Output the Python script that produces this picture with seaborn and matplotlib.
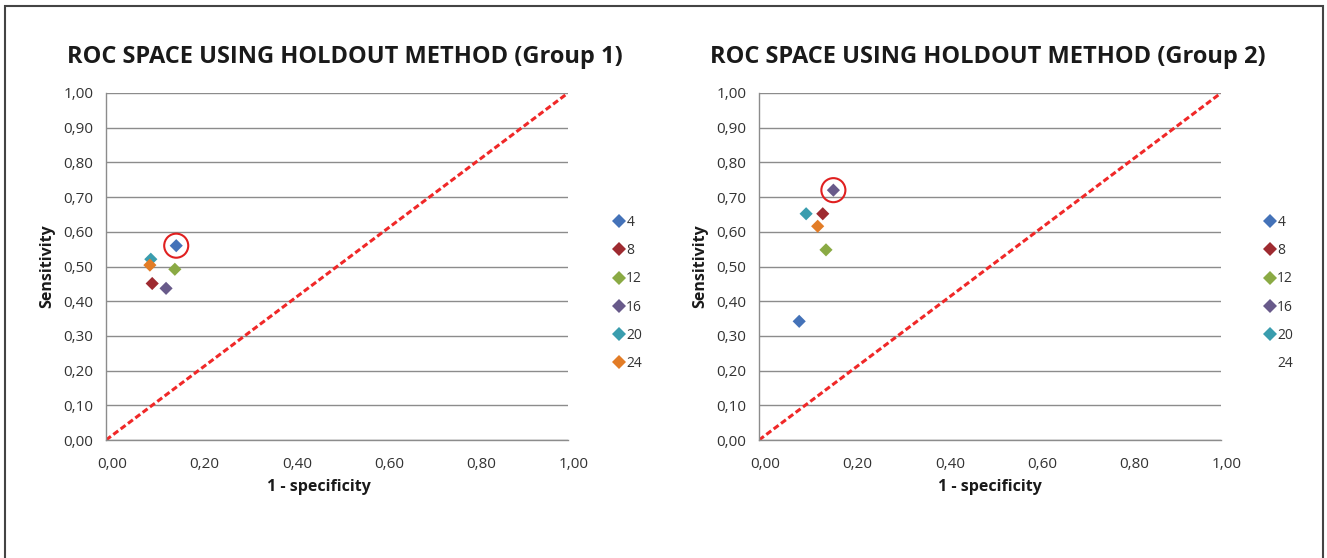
import matplotlib
matplotlib.use('Agg')
import matplotlib.pyplot as plt
import matplotlib.transforms as mtransforms
from matplotlib.patches import Rectangle
import pandas as pd
import seaborn as sns

# data
windows = ['4', '8', '12', '16', '20', '24']
g1_fpr = [0.152, 0.100, 0.149, 0.130, 0.097, 0.095]
g1_tpr = [0.560, 0.451, 0.492, 0.437, 0.521, 0.504]
g2_fpr = [0.087, 0.138, 0.145, 0.161, 0.102, 0.127]
g2_tpr = [0.342, 0.652, 0.548, 0.720, 0.652, 0.616]
best_g1 = '4'
best_g2 = '16'
tick_vals = [0.0, 0.1, 0.2, 0.3, 0.4, 0.5, 0.6, 0.7, 0.8, 0.9, 1.0]
tick_labels = ['0,00', '0,10', '0,20', '0,30', '0,40', '0,50', '0,60', '0,70', '0,80', '0,90', '1,00']
xtick_vals = [0.0, 0.2, 0.4, 0.6, 0.8, 1.0]
xtick_labels = ['0,00', '0,20', '0,40', '0,60', '0,80', '1,00']

colors = {'4': '#4472B8', '8': '#9E2A30', '12': '#8AAA44', '16': '#685A8A',
          '20': '#3A9DAE', '24': '#E27C26'}

sns.set_theme(style='white')
plt.rcParams['font.family'] = ['Open Sans', 'DejaVu Sans']

W, H = 1327, 558
fig = plt.figure(figsize=(W / 100, H / 100), dpi=100)
fig.patches.append(Rectangle((5 / W, -0.05), 1318 / W, 1 - 6 / H + 0.05,
                             transform=fig.transFigure, fill=False,
                             edgecolor='#444444', linewidth=1.5))

panels = [
    dict(left=106, fpr=g1_fpr, tpr=g1_tpr, best=best_g1, title_x=345, xlab_x=319,
         title='ROC SPACE USING HOLDOUT METHOD (Group 1)', leg_x=611, hide24=False),
    dict(left=759, fpr=g2_fpr, tpr=g2_tpr, best=best_g2, title_x=988, xlab_x=990,
         title='ROC SPACE USING HOLDOUT METHOD (Group 2)', leg_x=1262, hide24=True),
]

for p in panels:
    ax = fig.add_axes([p['left'] / W, 1 - 440 / H, 462 / W, 347 / H])
    df = pd.DataFrame({'window': windows, 'fpr': p['fpr'], 'tpr': p['tpr']})

    ax.plot([0, 1], [0, 1], color='#F02828', linestyle=(0, (2, 1)), linewidth=2.2, zorder=2)
    sns.scatterplot(data=df, x='fpr', y='tpr', hue='window', hue_order=windows,
                    palette=colors, marker='D', s=45, linewidth=0, ax=ax, zorder=3)
    best = df[df['window'] == p['best']]
    ax.scatter(best['fpr'], best['tpr'], s=300, facecolors='none',
               edgecolors='#E02020', linewidths=1.5, zorder=4)

    ax.set_xlim(0, 1)
    ax.set_ylim(0, 1)
    ax.set_yticks(tick_vals)
    ax.set_yticklabels(tick_labels, fontsize=11, color='#333333')
    ax.set_xticks(xtick_vals)
    ax.set_xticklabels(xtick_labels, fontsize=11, color='#333333')
    ax.tick_params(axis='y', length=0, pad=9)
    ax.tick_params(axis='x', length=0, pad=12)
    shift = mtransforms.ScaledTranslation(6 / 100, 0, fig.dpi_scale_trans)
    for lab in ax.get_xticklabels():
        lab.set_transform(lab.get_transform() + shift)
    ax.yaxis.grid(True, color='#8C8C8C', linewidth=1)
    ax.xaxis.grid(False)
    ax.set_axisbelow(True)
    for side in ['top', 'right']:
        ax.spines[side].set_visible(False)
    for side in ['left', 'bottom']:
        ax.spines[side].set_color('#8C8C8C')
        ax.spines[side].set_linewidth(1)
    ax.set_xlabel('')
    ax.set_ylabel('')

    handles, labels = ax.get_legend_handles_labels()
    if p['hide24']:
        handles[labels.index('24')].set_visible(False)
    ax.legend(handles, labels, loc='center left',
              bbox_to_anchor=(p['leg_x'] / W, 1 - 293 / H), bbox_transform=fig.transFigure,
              frameon=False, fontsize=10, labelspacing=0.95, handletextpad=0.0,
              handlelength=1.1, borderpad=0, borderaxespad=0, labelcolor='#333333')

    fig.text(p['title_x'] / W, 1 - 57 / H, p['title'], ha='center', va='center',
             fontsize=17, fontweight='bold', color='#1A1A1A')
    fig.text(p['xlab_x'] / W, 1 - 487 / H, '1 - specificity', ha='center', va='center',
             fontsize=11.5, fontweight='bold', color='#1A1A1A')
    fig.text((p['left'] - 59) / W, 1 - 266 / H, 'Sensitivity', ha='center', va='center',
             rotation=90, fontsize=11.5, fontweight='bold', color='#1A1A1A')

fig.savefig('out.png', dpi=100)
